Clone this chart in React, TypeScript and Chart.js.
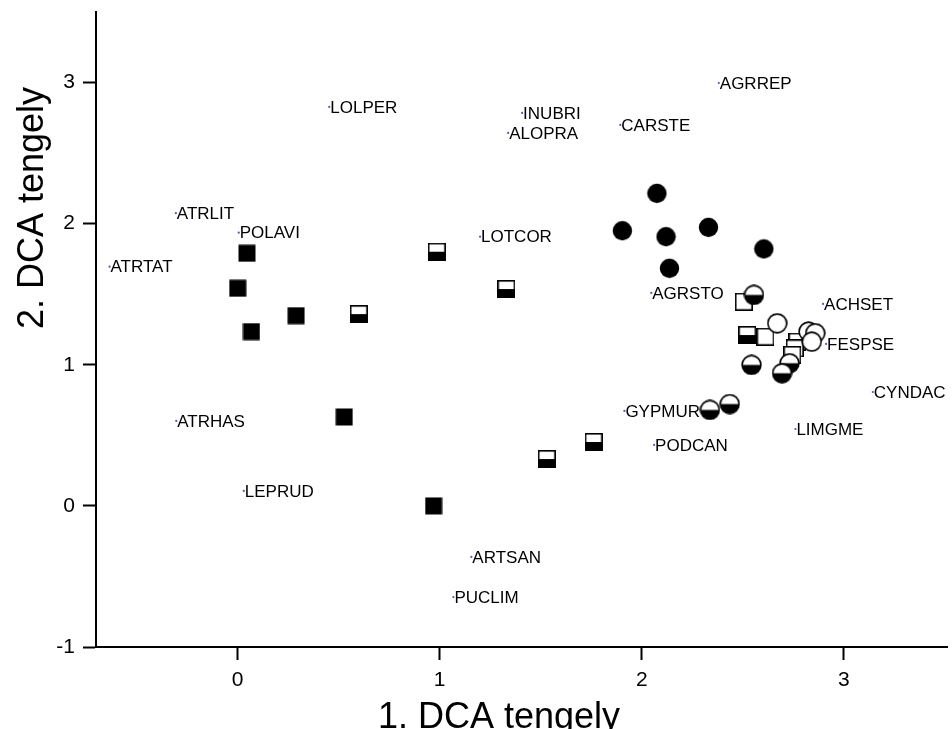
import React, { useEffect, useRef } from 'react';
import { Chart, registerables } from 'chart.js';

Chart.register(...registerables);

const FONT = '"Liberation Sans", Arimo, Arial, Helvetica, sans-serif';

// Axis ticks
const xTickValues = [0, 1, 2, 3];
const yTickValues = [-1, 0, 1, 2, 3];

// Sample groups (DCA scores)
const filledSquareX = [0.047, 0.001, 0.069, 0.29, 0.528, 0.97];
const filledSquareY = [1.79, 1.542, 1.235, 1.348, 0.63, 0.0];

const halfSquareX = [0.6, 0.986, 1.33, 1.53, 1.762, 2.522];
const halfSquareY = [1.359, 1.801, 1.537, 0.332, 0.453, 1.211];

const whiteSquareX = [2.505, 2.612, 2.77, 2.757, 2.745];
const whiteSquareY = [1.447, 1.199, 1.164, 1.117, 1.07];

const filledCircleX = [2.075, 1.904, 2.12, 2.33, 2.604, 2.137];
const filledCircleY = [2.215, 1.95, 1.908, 1.974, 1.821, 1.684];

const halfCircleX = [2.555, 2.543, 2.731, 2.694, 2.337, 2.435];
const halfCircleY = [1.495, 0.999, 1.011, 0.94, 0.68, 0.722];

const whiteCircleX = [2.67, 2.825, 2.858, 2.841];
const whiteCircleY = [1.294, 1.235, 1.224, 1.164];

// Species scores
const speciesNames = [
  'LOLPER', 'INUBRI', 'ALOPRA', 'AGRREP', 'CARSTE', 'ATRLIT', 'POLAVI', 'ATRTAT',
  'LOTCOR', 'AGRSTO', 'ACHSET', 'FESPSE', 'CYNDAC', 'LIMGME', 'GYPMUR', 'PODCAN',
  'ATRHAS', 'LEPRUD', 'ARTSAN', 'PUCLIM',
];
const speciesX = [
  0.454, 1.408, 1.339, 2.381, 1.894, -0.305, 0.006, -0.633,
  1.2, 2.047, 2.897, 2.912, 3.143, 2.76, 1.914, 2.061,
  -0.303, 0.031, 1.157, 1.068,
];
const speciesY = [
  2.827, 2.785, 2.643, 2.997, 2.7, 2.074, 1.936, 1.695,
  1.908, 1.509, 1.431, 1.148, 0.807, 0.545, 0.673, 0.432,
  0.602, 0.106, -0.362, -0.646,
];

const xTitle = '1. DCA tengely';
const yTitle = '2. DCA tengely';

function pts(xs: number[], ys: number[]) {
  return xs.map((x, i) => ({ x, y: ys[i] }));
}

function makeMarker(kind: string): HTMLCanvasElement {
  const c = document.createElement('canvas');
  const isSquare = kind.includes('Square');
  const size = isSquare ? 18 : 21;
  c.width = size;
  c.height = size;
  const ctx = c.getContext('2d')!;
  const lw = 1.6;
  const s = size;
  const h = s / 2;
  if (isSquare) {
    const a = lw / 2, w = s - lw;
    if (kind === 'filledSquare') {
      ctx.fillStyle = '#000';
      ctx.fillRect(0.5, 0.5, s - 1, s - 1);
    } else {
      ctx.fillStyle = '#fff';
      ctx.fillRect(a, a, w, w);
      if (kind === 'halfSquare') {
        ctx.fillStyle = '#000';
        ctx.fillRect(a, h, w, h - a);
      }
      ctx.strokeStyle = '#000';
      ctx.lineWidth = lw;
      ctx.strokeRect(a, a, w, w);
    }
  } else {
    const r = h - lw / 2 - 0.3;
    if (kind === 'filledCircle') {
      ctx.fillStyle = '#000';
      ctx.beginPath();
      ctx.arc(h, h, h - 0.8, 0, Math.PI * 2);
      ctx.fill();
    } else {
      ctx.fillStyle = '#fff';
      ctx.beginPath();
      ctx.arc(h, h, r, 0, Math.PI * 2);
      ctx.fill();
      if (kind === 'halfCircle') {
        ctx.fillStyle = '#000';
        ctx.beginPath();
        ctx.arc(h, h, r, 0, Math.PI);
        ctx.closePath();
        ctx.fill();
      }
      ctx.strokeStyle = '#000';
      ctx.lineWidth = lw;
      ctx.beginPath();
      ctx.arc(h, h, r, 0, Math.PI * 2);
      ctx.stroke();
    }
  }
  return c;
}

const speciesLabelPlugin = {
  id: 'speciesLabels',
  afterDatasetsDraw(chart: any) {
    const idx = chart.data.datasets.findIndex((d: any) => d.label === 'species');
    if (idx < 0) return;
    const meta = chart.getDatasetMeta(idx);
    const ctx = chart.ctx;
    ctx.save();
    ctx.font = `17px ${FONT}`;
    ctx.fillStyle = '#000';
    ctx.textAlign = 'left';
    ctx.textBaseline = 'middle';
    meta.data.forEach((el: any, i: number) => {
      ctx.fillText(speciesNames[i], el.x + 1, el.y + 1);
    });
    ctx.restore();
  },
};

const titlesPlugin = {
  id: 'axisTitles',
  afterDraw(chart: any) {
    const ctx = chart.ctx;
    ctx.save();
    ctx.fillStyle = '#000';
    ctx.font = `36px ${FONT}`;
    ctx.textAlign = 'center';
    ctx.textBaseline = 'alphabetic';
    ctx.fillText(xTitle, 499, 728);
    ctx.translate(43, 208);
    ctx.rotate(-Math.PI / 2);
    ctx.fillText(yTitle, 0, 0);
    ctx.restore();
  },
};

export default function App() {
  const ref = useRef<HTMLCanvasElement>(null);
  useEffect(() => {
    const canvas = ref.current!;
    const markers = {
      filledSquare: makeMarker('filledSquare'),
      halfSquare: makeMarker('halfSquare'),
      whiteSquare: makeMarker('whiteSquare'),
      filledCircle: makeMarker('filledCircle'),
      halfCircle: makeMarker('halfCircle'),
      whiteCircle: makeMarker('whiteCircle'),
    };
    const axisCommon = (size: number, pad: number) => ({
      type: 'linear' as const,
      grid: {
        display: true,
        drawOnChartArea: false,
        drawTicks: true,
        tickLength: 13,
        tickWidth: 2,
        tickColor: '#000',
      },
      border: { display: true, color: '#000', width: 2 },
      ticks: {
        color: '#000',
        font: { family: FONT, size },
        autoSkip: false,
        maxRotation: 0,
        padding: pad,
      },
    });
    const chart = new Chart(canvas, {
      type: 'scatter',
      data: {
        datasets: [
          { label: 'species', data: pts(speciesX, speciesY), pointStyle: 'circle', pointRadius: 1.1, pointBackgroundColor: '#5555bb', pointBorderWidth: 0 },
          { label: 'whiteCircle', data: pts(whiteCircleX, whiteCircleY), pointStyle: markers.whiteCircle },
          { label: 'halfCircle', data: pts(halfCircleX, halfCircleY), pointStyle: markers.halfCircle },
          { label: 'filledCircle', data: pts(filledCircleX, filledCircleY), pointStyle: markers.filledCircle },
          { label: 'whiteSquare', data: pts(whiteSquareX, whiteSquareY), pointStyle: markers.whiteSquare },
          { label: 'halfSquare', data: pts(halfSquareX, halfSquareY), pointStyle: markers.halfSquare },
          { label: 'filledSquare', data: pts(filledSquareX, filledSquareY), pointStyle: markers.filledSquare },
        ] as any,
      },
      options: {
        animation: false,
        responsive: false,
        maintainAspectRatio: false,
        layout: { padding: { top: 12, right: 0, bottom: 0, left: 0 } },
        plugins: { legend: { display: false }, tooltip: { enabled: false } },
        scales: {
          x: {
            ...axisCommon(21, 8),
            min: -0.7,
            max: 3.51,
            afterBuildTicks: (s: any) => { s.ticks = xTickValues.map((v) => ({ value: v })); },
            afterFit: (s: any) => { s.height = 82; s.paddingLeft = 0; s.paddingRight = 0; },
          },
          y: {
            ...axisCommon(21, 8),
            min: -1,
            max: 3.5,
            afterBuildTicks: (s: any) => { s.ticks = yTickValues.map((v) => ({ value: v })); },
            afterFit: (s: any) => { s.width = 96; s.paddingTop = 0; s.paddingBottom = 0; },
          },
        },
      } as any,
      plugins: [speciesLabelPlugin, titlesPlugin],
    });
    return () => chart.destroy();
  }, []);
  return (
    <div style={{ position: 'absolute', left: 0, top: 0, width: 952, height: 729, background: '#fff' }}>
      <canvas ref={ref} width={952} height={729} style={{ width: 952, height: 729, display: 'block' }} />
    </div>
  );
}
